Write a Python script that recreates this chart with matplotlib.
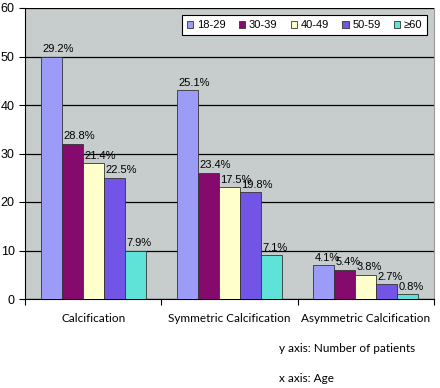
import matplotlib
matplotlib.use("Agg")
import matplotlib.pyplot as plt
import numpy as np

categories = ["Calcification", "Symmetric Calcification", "Asymmetric Calcification"]
age_groups = ["18-29", "30-39", "40-49", "50-59", "\u226560"]
counts = [
    [50, 43, 7],
    [32, 26, 6],
    [28, 23, 5],
    [25, 22, 3],
    [10, 9, 1],
]
percents = [
    ["29.2%", "25.1%", "4.1%"],
    ["28.8%", "23.4%", "5.4%"],
    ["21.4%", "17.5%", "3.8%"],
    ["22.5%", "19.8%", "2.7%"],
    ["7.9%", "7.1%", "0.8%"],
]
colors = ["#9C9CF8", "#850A6E", "#FFFFCC", "#7254E6", "#5FE3D8"]

plt.rcParams["font.family"] = ["Liberation Sans", "DejaVu Sans"]

fig = plt.figure(figsize=(4.4, 3.88), dpi=100)
ax = fig.add_axes([25 / 440, 89 / 388, 409 / 440, 291 / 388])
ax.set_facecolor("#C6CDCC")

x = np.arange(len(categories))
w = 0.154
for i, grp in enumerate(age_groups):
    pos = x + (i - 2) * w
    ax.bar(pos, counts[i], w, color=colors[i], edgecolor="#333333", linewidth=0.6,
           label=grp, zorder=3)
    for p, v, t in zip(pos, counts[i], percents[i]):
        ax.text(p - w / 2 + 0.01, v + 0.5, t, ha="left", va="bottom", fontsize=8, zorder=4)

ax.set_ylim(0, 60)
ax.set_xlim(-0.5, 2.5)
ax.set_yticks(range(0, 61, 10))
ax.yaxis.grid(True, color="black", linewidth=0.9, zorder=1)
ax.tick_params(axis="y", labelsize=9, length=4, direction="out")

ax.set_xticks([-0.5, 0.5, 1.5, 2.5])
ax.set_xticklabels([])
ax.tick_params(axis="x", length=4, direction="out")
for xi, c in zip(x, categories):
    ax.text(xi, -2.8, c, ha="center", va="top", fontsize=8.5, family="Lato")

ax.spines["top"].set_visible(False)
ax.spines["right"].set_color("#999999")
ax.spines["left"].set_color("black")
ax.spines["bottom"].set_color("black")

leg = ax.legend(loc="upper right", ncol=5, fontsize=8, frameon=True, fancybox=False,
                edgecolor="black", framealpha=1, handlelength=0.6, handleheight=0.6,
                handletextpad=0.3, columnspacing=1.2, borderpad=0.45,
                bbox_to_anchor=(0.997, 0.995))
leg.get_frame().set_linewidth(0.8)

fig.text(279 / 440, 1 - 348 / 388, "y axis: Number of patients", fontsize=8.5,
         family="Lato", va="center")
fig.text(279 / 440, 1 - 378 / 388, "x axis: Age", fontsize=8.5, family="Lato", va="center")

fig.savefig("out.png", dpi=100)
